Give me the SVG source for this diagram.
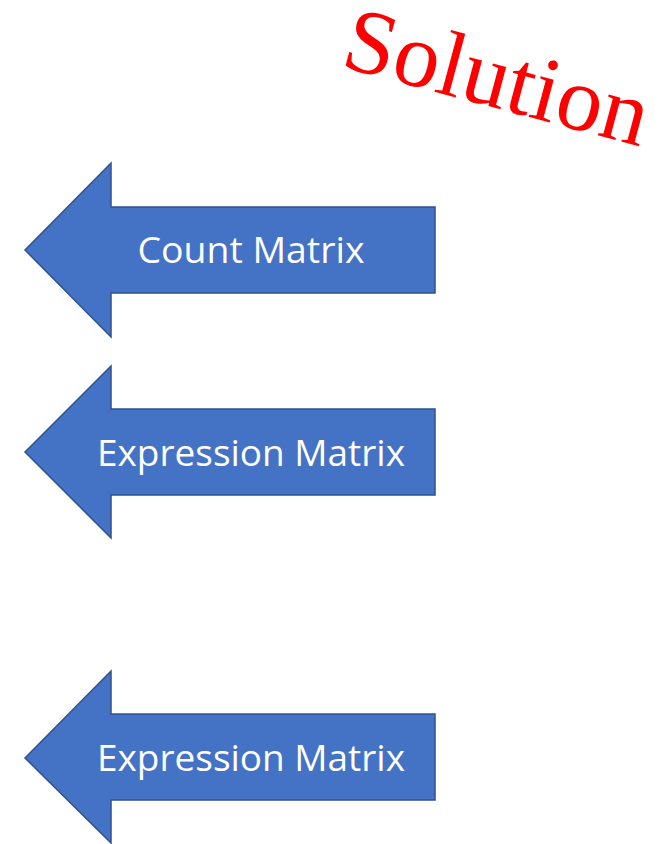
<svg xmlns="http://www.w3.org/2000/svg" width="664" height="844" viewBox="0 0 664 844">
<style>
.arrow{fill:#4472C4;stroke:#2F528F;stroke-width:1.5;stroke-linejoin:miter}
.lbl{font-family:"Open Sans","Liberation Sans",sans-serif;font-size:36px;fill:#fff;text-anchor:middle}
.sol{font-family:"Liberation Serif","Times New Roman",serif;font-size:92px;fill:#FF0000}
</style>
<rect width="664" height="844" fill="#fff"/>
<g id="title"><text class="sol" x="339" y="66" transform="rotate(15 339 66)">Solution</text></g>
<g id="connectors"></g>
<g id="arrow1">
<path class="arrow" d="M25,250 L111,163 L111,207 L435,207 L435,293 L111,293 L111,337 Z"/>
<text class="lbl" x="251" y="263" textLength="227" lengthAdjust="spacingAndGlyphs">Count Matrix</text>
</g>
<g id="arrow2">
<path class="arrow" d="M25,452 L111,366 L111,409 L435,409 L435,495 L111,495 L111,538 Z"/>
<text class="lbl" x="251" y="466" textLength="308" lengthAdjust="spacingAndGlyphs">Expression Matrix</text>
</g>
<g id="arrow3">
<path class="arrow" d="M25,758 L111,671 L111,714 L435,714 L435,800 L111,800 L111,843 Z"/>
<text class="lbl" x="251" y="771" textLength="308" lengthAdjust="spacingAndGlyphs">Expression Matrix</text>
</g>
</svg>
